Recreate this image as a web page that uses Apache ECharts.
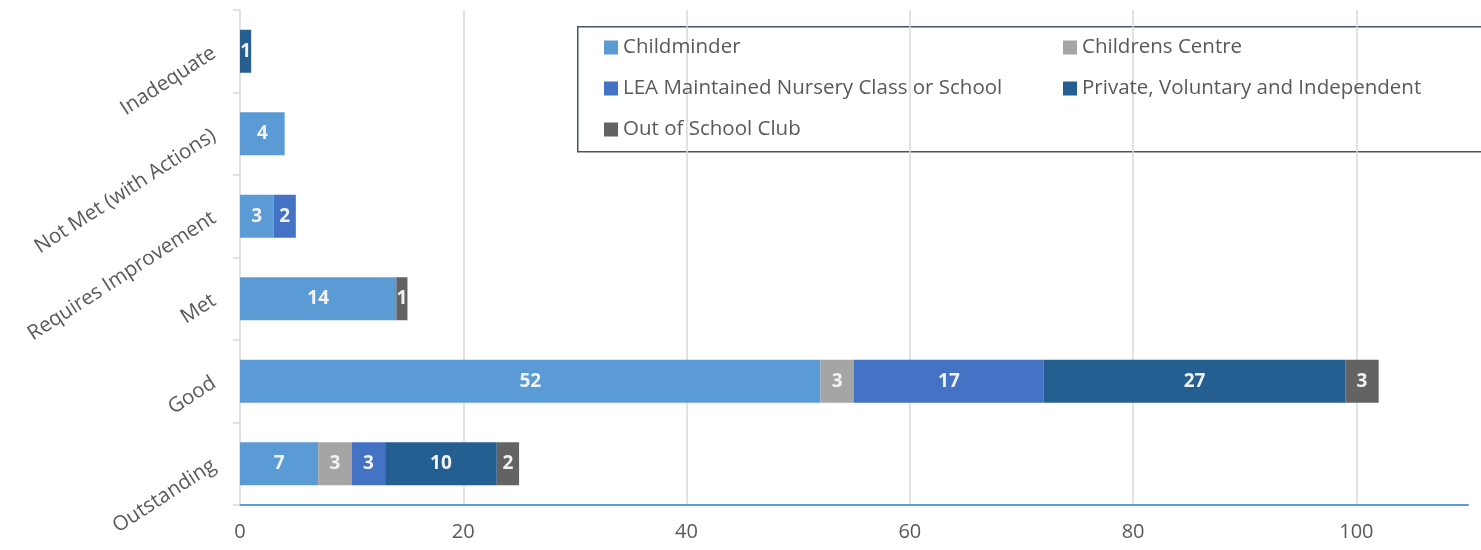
<!DOCTYPE html>
<html>
<head>
<meta charset="utf-8">
<script src="https://cdn.jsdelivr.net/npm/echarts@6/dist/echarts.min.js"></script>
<style>
html,body{margin:0;padding:0;background:#fff;}
#c{width:1481px;height:550px;}
</style>
</head>
<body>
<div id="c"></div>
<script>
// Categories bottom-to-top (ECharts category y axis starts at the bottom)
const categories = ['Outstanding', 'Good', 'Met', 'Requires Improvement', 'Not Met (with Actions)', 'Inadequate'];
const seriesNames = ['Childminder', 'Childrens Centre', 'LEA Maintained Nursery Class or School', 'Private, Voluntary and Independent', 'Out of School Club'];
const childminder = [7, 52, 14, 3, 4, 0];
const childrensCentre = [3, 3, 0, 0, 0, 0];
const leaMaintained = [3, 17, 0, 2, 0, 0];
const privateVoluntary = [10, 27, 0, 0, 0, 1];
const outOfSchoolClub = [2, 3, 1, 0, 0, 0];
const xTicks = { min: 0, max: 110, interval: 20 };

const colors = ['#5b9bd5', '#a5a5a5', '#4472c4', '#255e91', '#636363'];
const values = [childminder, childrensCentre, leaMaintained, privateVoluntary, outOfSchoolClub];
const FONT = '"Open Sans", "Noto Sans", sans-serif';

const chart = echarts.init(document.getElementById('c'), null, { renderer: 'canvas' });

const series = seriesNames.map((name, i) => ({
  name: name,
  type: 'bar',
  stack: 'total',
  data: values[i],
  barWidth: 43,
  itemStyle: { color: colors[i] },
  label: {
    show: true,
    position: 'inside',
    color: '#f2f2f2',
    fontFamily: FONT,
    fontWeight: 'bold',
    fontSize: 19,
    formatter: p => (p.value ? String(p.value) : '')
  },
  emphasis: { disabled: true }
}));

const legendText = { color: '#595959', fontSize: 20.5, fontFamily: FONT };

chart.setOption({
  animation: false,
  color: colors,
  grid: { left: 240, right: 13, top: 10, bottom: 45, containLabel: false },
  xAxis: {
    type: 'value',
    min: xTicks.min,
    max: xTicks.max,
    interval: xTicks.interval,
    axisLine: { show: true, lineStyle: { color: '#5b9bd5', width: 2 } },
    axisTick: { show: false },
    axisLabel: { color: '#595959', fontSize: 20, fontFamily: FONT, margin: 17, showMaxLabel: false },
    splitLine: { show: true, showMinLine: false, showMaxLine: false, lineStyle: { color: '#d9d9d9', width: 1.5 } }
  },
  yAxis: {
    type: 'category',
    data: categories,
    axisLine: { show: true, lineStyle: { color: '#d9d9d9', width: 1.5 } },
    axisTick: { show: true, length: 7, lineStyle: { color: '#d9d9d9', width: 1.5 } },
    axisLabel: { color: '#595959', fontSize: 20.5, fontFamily: FONT, rotate: 33, margin: 26 },
    splitLine: { show: false }
  },
  legend: [
    {
      data: [seriesNames[0], seriesNames[2], seriesNames[4]],
      orient: 'vertical',
      left: 599,
      top: 32,
      itemWidth: 14,
      itemHeight: 14,
      itemGap: 20,
      itemTextGap: 4,
      icon: 'rect',
      textStyle: legendText,
      selectedMode: false
    },
    {
      data: [seriesNames[1], seriesNames[3]],
      orient: 'vertical',
      left: 1058,
      top: 32,
      itemWidth: 14,
      itemHeight: 14,
      itemGap: 20,
      itemTextGap: 5,
      icon: 'rect',
      textStyle: legendText,
      selectedMode: false
    }
  ],
  graphic: [
    {
      type: 'rect',
      left: 577,
      top: 26,
      shape: { width: 910, height: 125 },
      style: { fill: '#ffffff', stroke: '#44546a', lineWidth: 1.5 },
      z: 0,
      zlevel: 0
    }
  ],
  series: series
});
</script>
</body>
</html>
